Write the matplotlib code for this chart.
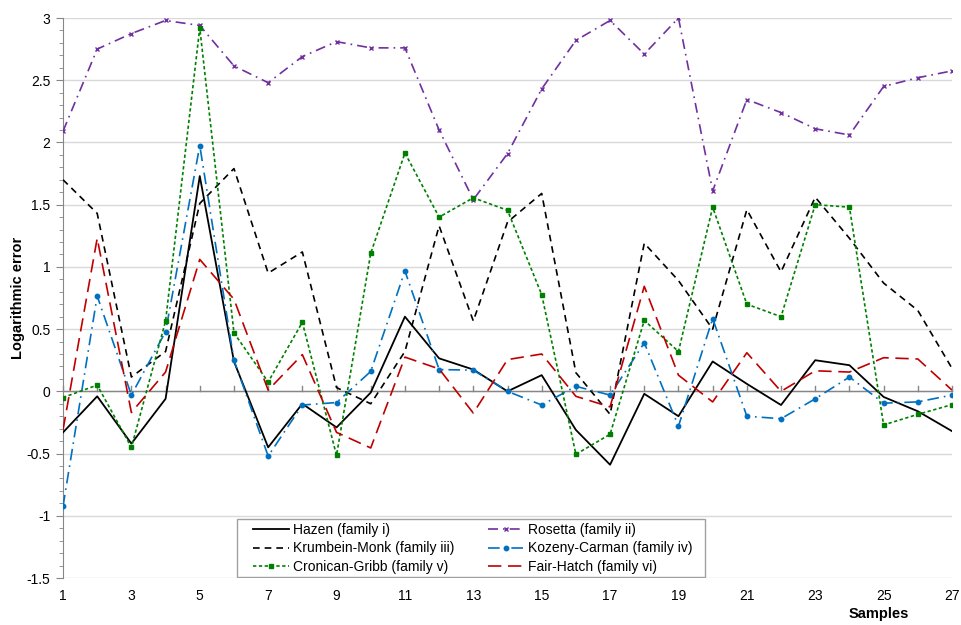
import matplotlib
matplotlib.use("Agg")
import matplotlib.pyplot as plt
from matplotlib.patches import Rectangle
from matplotlib.ticker import MultipleLocator, FuncFormatter

plt.rcParams['font.family'] = ['Liberation Sans', 'DejaVu Sans']

samples = list(range(1, 28))

hazen = [-0.33, -0.04, -0.42, -0.06, 1.73, 0.24, -0.45, -0.10, -0.29, -0.01,
         0.60, 0.265, 0.175, 0.00, 0.13, -0.31, -0.59, -0.02, -0.20, 0.24,
         0.06, -0.11, 0.25, 0.21, -0.045, -0.16, -0.32]
rosetta = [2.09, 2.75, 2.875, 2.98, 2.94, 2.615, 2.48, 2.69, 2.81, 2.76,
           2.76, 2.10, 1.54, 1.91, 2.43, 2.82, 2.98, 2.71, 3.0, 1.61,
           2.345, 2.24, 2.11, 2.06, 2.45, 2.52, 2.575]
krumbein = [1.70, 1.43, 0.115, 0.32, 1.51, 1.79, 0.95, 1.12, 0.03, -0.10,
            0.32, 1.33, 0.565, 1.36, 1.59, 0.15, -0.185, 1.19, 0.89, 0.50,
            1.46, 0.96, 1.56, 1.23, 0.87, 0.65, 0.185]
kozeny = [-0.925, 0.766, -0.03, 0.48, 1.975, 0.25, -0.52, -0.11, -0.09, 0.16,
          0.967, 0.175, 0.17, 0.00, -0.11, 0.04, -0.03, 0.39, -0.28, 0.585,
          -0.20, -0.22, -0.06, 0.115, -0.095, -0.085, -0.03]
cronican = [-0.05, 0.05, -0.45, 0.565, 2.92, 0.47, 0.075, 0.555, -0.515, 1.11,
            1.915, 1.40, 1.555, 1.455, 0.777, -0.506, -0.345, 0.57, 0.32, 1.48,
            0.70, 0.60, 1.50, 1.48, -0.27, -0.185, -0.107]
fairhatch = [-0.31, 1.23, -0.17, 0.155, 1.06, 0.74, 0.01, 0.295, -0.33, -0.455,
             0.275, 0.18, -0.175, 0.255, 0.30, -0.04, -0.125, 0.844, 0.13, -0.085,
             0.31, 0.00, 0.165, 0.155, 0.27, 0.26, 0.01]

fig = plt.figure(figsize=(9.61, 6.25), dpi=100)
ax = fig.add_axes([63 / 961, 1 - 578 / 625, 889 / 961, 560 / 625])

l_hazen, = ax.plot(samples, hazen, color='black', lw=1.3,
                   label='Hazen (family i)', zorder=3)
l_ros, = ax.plot(samples, rosetta, color='#7030A0', lw=1.2, dashes=(6, 3, 1, 3),
                 marker='x', ms=3.5, mew=1.0, label='Rosetta (family ii)', zorder=3)
l_krum, = ax.plot(samples, krumbein, color='black', lw=1.2, dashes=(4, 3),
                  label='Krumbein-Monk (family iii)', zorder=3)
l_koz, = ax.plot(samples, kozeny, color='#0070C0', lw=1.2, dashes=(7, 3, 1, 3),
                 marker='o', ms=3.2, label='Kozeny-Carman (family iv)', zorder=3)
l_cron, = ax.plot(samples, cronican, color='#008000', lw=1.2, dashes=(2, 1.5),
                  marker='s', ms=3.5, label='Cronican-Gribb (family v)', zorder=3)
l_fair, = ax.plot(samples, fairhatch, color='#C00000', lw=1.2, dashes=(8, 4),
                  label='Fair-Hatch (family vi)', zorder=3)

ax.set_xlim(1, 27)
ax.set_ylim(-1.5, 3)

# y axis
ax.yaxis.set_major_locator(MultipleLocator(0.5))
ax.yaxis.set_minor_locator(MultipleLocator(0.1))
ax.yaxis.set_major_formatter(FuncFormatter(lambda v, p: '%g' % v))
ax.tick_params(axis='y', which='major', direction='out', length=5,
               color='#868686', labelsize=10, pad=4)
ax.tick_params(axis='y', which='minor', direction='out', length=3,
               color='#868686')
ax.grid(axis='y', which='major', color='#D9D9D9', lw=1.0, zorder=0)

# labels at the bottom, odd samples only
ax.set_xticks(samples[::2])
ax.tick_params(axis='x', which='both', bottom=True, top=False, length=0,
               labelsize=10, pad=8)

# zero axis line with a tick at every sample
ax.spines['top'].set_position(('data', 0))
ax.spines['top'].set_color('#868686')
ax.spines['top'].set_linewidth(1.0)
ax.spines['top'].set_zorder(2)
ax.spines['bottom'].set_visible(False)
ax.spines['right'].set_visible(False)
ax.spines['left'].set_color('#868686')

for s in samples:
    ax.plot([s, s], [0, 0.045], color='#868686', lw=1.0, zorder=2,
            clip_on=False)

ax.set_ylabel('Logarithmic error', fontsize=10.5, fontweight='bold', labelpad=1)
ax.text(0.918, -0.064, 'Samples', transform=ax.transAxes, fontsize=10.5,
        fontweight='bold', ha='center', va='center')

# legend box (white, grey edge) drawn separately for Excel-like padding
frame = Rectangle((0.1957, 0.001), 0.5265, 0.1045, transform=ax.transAxes,
                  facecolor='white', edgecolor='#A0A0A0', lw=1.0, zorder=4)
ax.add_patch(frame)

handles = [l_hazen, l_krum, l_cron, l_ros, l_koz, l_fair]
leg = ax.legend(handles=handles, loc='lower left', bbox_to_anchor=(0.2137, 0.007),
                ncol=2, fontsize=10, frameon=False,
                handlelength=2.6, columnspacing=2.4,
                labelspacing=0.33, borderpad=0, handletextpad=0.3,
                borderaxespad=0)
leg.set_zorder(5)

fig.savefig('out.png', dpi=100)
